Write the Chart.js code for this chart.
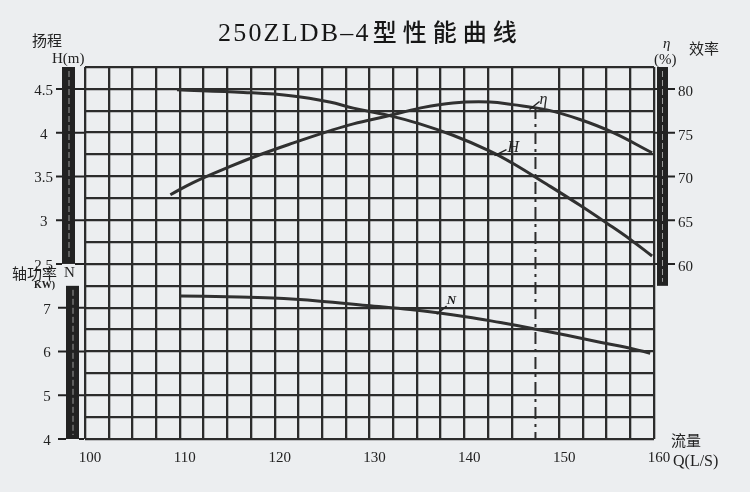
<!DOCTYPE html>
<html><head><meta charset="utf-8">
<script src="https://cdn.jsdelivr.net/npm/chart.js@4.4.0/dist/chart.umd.min.js"></script>
<style>html,body{margin:0;padding:0;background:#eceef0;}canvas{display:block;}</style>
</head><body>
<canvas id="c" width="750" height="492"></canvas>
<script>
// ---- data ----
const titleModel = '250ZLDB–4';
const titleRest = '型性能曲线';
const flowQ_H = [109.7,116.7,121.9,125.8,128.3,131.9,135.3,138.8,142.7,145.1,148.7,152.2,155.1,157.5,159.8];
const headH   = [4.49,4.46,4.42,4.35,4.28,4.20,4.10,3.97,3.79,3.65,3.41,3.17,2.96,2.78,2.59];
const flowQ_E = [109.0,111.4,115.0,118.5,121.9,125.8,128.3,131.9,135.3,138.8,142.7,145.1,148.7,152.2,155.7,159.8];
const effE    = [67.9,69.3,71.0,72.5,73.8,75.2,76.0,76.9,77.8,78.4,78.5,78.2,77.6,76.5,75.0,72.7];
const flowQ_N = [110.0,115.0,119.8,124.8,129.7,134.3,140.3,143.8,147.3,150.8,154.3,157.8,159.6];
const powerN  = [7.27,7.25,7.22,7.15,7.05,6.96,6.79,6.66,6.52,6.37,6.21,6.06,5.96];
const xTicks = [100,110,120,130,140,150,160];
const hTicks = [4.5,4,3.5,3,2.5];
const nTicks = [7,6,5,4];
const eTicks = [80,75,70,65,60];
const designQ = 147.5;

// ---- style ----
const INK = '#222222';
const GRID = '#2c2c2c';
const PAPER = '#eceef0';
const SERIF = "'Liberation Serif', 'DejaVu Serif', serif";
const CJK = "'Noto Sans CJK SC', sans-serif";

function pts(xs, ys){ return xs.map((x,i)=>({x:x, y:ys[i]})); }

function drawSpaced(ctx, text, x, y, sp){
  for (const ch of text){ ctx.fillText(ch, x, y); x += ctx.measureText(ch).width + sp; }
  return x;
}

const decor = {
  id:'decor',
  beforeDraw(chart){
    const c = chart.ctx; c.save(); c.fillStyle = PAPER; c.fillRect(0,0,chart.width,chart.height); c.restore();
  },
  beforeDatasetsDraw(chart){
    const c = chart.ctx, x = chart.scales.x, a = chart.chartArea;
    const px = x.getPixelForValue(designQ);
    c.save(); c.strokeStyle = GRID; c.lineWidth = 2; c.setLineDash([12,5,3,5]);
    c.beginPath(); c.moveTo(px, a.top+40); c.lineTo(px, a.bottom); c.stroke(); c.restore();
  },
  afterDraw(chart){
    const c = chart.ctx, sx = chart.scales.x, yH = chart.scales.yH, yN = chart.scales.yN, yE = chart.scales.yE;
    c.save();
    // scale bars
    c.fillStyle = '#222';
    const hTop = yH.getPixelForValue(4.75), hBot = yH.getPixelForValue(2.5);
    c.fillRect(62, hTop, 13, hBot-hTop);
    const nTop = yN.getPixelForValue(7.5), nBot = yN.getPixelForValue(4);
    c.fillRect(66, nTop, 13, nBot-nTop);
    const eTop = yE.getPixelForValue(82.5), eBot = yE.getPixelForValue(57.5);
    c.fillRect(657, eTop, 11, eBot-eTop);
    c.strokeStyle = '#9a9a9a'; c.lineWidth = 1; c.setLineDash([6,3]);
    c.beginPath(); c.moveTo(69, hTop+4); c.lineTo(69, hBot-4);
    c.moveTo(73, nTop+4); c.lineTo(73, nBot-4);
    c.moveTo(662.5, eTop+4); c.lineTo(662.5, eBot-4); c.stroke();
    c.setLineDash([]);
    c.strokeStyle = INK; c.lineWidth = 2;
    c.beginPath();
    hTicks.forEach(v=>{ const p = yH.getPixelForValue(v); c.moveTo(56,p); c.lineTo(62,p); c.moveTo(75,p); c.lineTo(84,p); });
    nTicks.forEach(v=>{ const p = yN.getPixelForValue(v); c.moveTo(58,p); c.lineTo(66,p); c.moveTo(79,p); c.lineTo(84,p); });
    eTicks.forEach(v=>{ const p = yE.getPixelForValue(v); c.moveTo(654,p); c.lineTo(657,p); c.moveTo(668,p); c.lineTo(675,p); });
    c.stroke();

    c.fillStyle = INK;
    // N tick labels (same column as H labels)
    c.font = '15px ' + SERIF; c.textAlign = 'center'; c.textBaseline = 'middle';
    nTicks.forEach(v=>{ c.fillText(String(v), 47, yN.getPixelForValue(v)+2); });

    // axis titles
    c.font = '15px ' + CJK; c.textAlign = 'left'; c.textBaseline = 'middle';
    c.fillText('扬程', 32, 40);
    c.fillText('轴功率', 12, 273);
    c.fillText('效率', 689, 48);
    c.fillText('流量', 671, 440);
    c.font = '15px ' + SERIF;
    c.fillText('H(m)', 52, 59);
    c.fillText('N', 64, 273);
    c.fillText('(%)', 654, 60);
    c.font = '16px ' + SERIF;
    c.fillText('Q(L/S)', 673, 462);
    c.font = 'italic 15px ' + SERIF;
    c.fillText('η', 663, 44);
    c.font = 'bold 10px ' + SERIF;
    c.fillText('KW)', 34, 285);

    // title
    c.fillStyle = '#161616';
    c.textBaseline = 'alphabetic'; c.textAlign = 'left';
    c.font = '26px ' + SERIF;
    let tx = drawSpaced(c, titleModel, 218, 41, 2.2);
    c.font = '500 24px ' + CJK;
    drawSpaced(c, titleRest, tx + 2, 41, 6);

    // curve labels with leaders
    c.fillStyle = INK;
    c.lineWidth = 1.5; c.strokeStyle = INK;
    c.font = 'italic 16px ' + SERIF;
    let px = sx.getPixelForValue(147.3), py = yE.getPixelForValue(78.1);
    c.beginPath(); c.moveTo(px-4, py+4); c.lineTo(px+6, py-4); c.stroke();
    c.fillText('η', px+6, py-2);
    px = sx.getPixelForValue(143.6); py = yH.getPixelForValue(3.76);
    c.beginPath(); c.moveTo(px-4, py+2); c.lineTo(px+8, py-4); c.stroke();
    c.fillText('H', px+9, py-2);
    c.font = 'italic bold 13px ' + SERIF;
    px = sx.getPixelForValue(137.5); py = yN.getPixelForValue(6.9);
    c.beginPath(); c.moveTo(px-4, py+2); c.lineTo(px+6, py-6); c.stroke();
    c.fillText('N', px+6, py-8);
    c.restore();
  }
};

const curveStyle = {borderColor:'#303030', borderWidth:3, pointRadius:0, fill:false, tension:0.4};

new Chart(document.getElementById('c'), {
  type:'line',
  data:{ datasets:[
    Object.assign({label:'H', data:pts(flowQ_H, headH), yAxisID:'yH'}, curveStyle),
    Object.assign({label:'η', data:pts(flowQ_E, effE), yAxisID:'yE'}, curveStyle),
    Object.assign({label:'N', data:pts(flowQ_N, powerN), yAxisID:'yN'}, curveStyle)
  ]},
  options:{
    responsive:false, animation:false, devicePixelRatio:1,
    layout:{padding:{top:67,left:0,right:0,bottom:0}},
    plugins:{legend:{display:false}, tooltip:{enabled:false}, title:{display:false}},
    scales:{
      x:{type:'linear', min:100, max:160,
        ticks:{stepSize:2.5, autoSkip:false, maxRotation:0, padding:10, labelOffset:5, color:INK,
          font:{family:SERIF, size:15}, callback:v=>xTicks.includes(v)?String(v):''},
        grid:{color:ctx=>(ctx.tick && ctx.tick.value===designQ)?'rgba(0,0,0,0)':GRID, lineWidth:2.3, drawTicks:false},
        border:{display:false}, afterFit:s=>{s.height=53;}},
      yH:{position:'left', min:0.5, max:4.75,
        ticks:{stepSize:0.25, autoSkip:false, crossAlign:'center', padding:32, labelOffset:2, color:INK,
          font:{family:SERIF, size:15}, callback:v=>hTicks.includes(v)?String(v):''},
        grid:{color:GRID, lineWidth:2.3, drawTicks:false},
        border:{display:false}, afterFit:s=>{s.width=85;}},
      yN:{display:false, min:4, max:12.5},
      yE:{position:'right', min:40, max:82.5,
        ticks:{stepSize:2.5, autoSkip:false, padding:24, labelOffset:3, color:INK,
          font:{family:SERIF, size:15}, callback:v=>eTicks.includes(v)?String(v):''},
        grid:{drawOnChartArea:false, drawTicks:false},
        border:{display:false}, afterFit:s=>{s.width=96;}}
    }
  },
  plugins:[decor]
});
</script>
</body></html>
